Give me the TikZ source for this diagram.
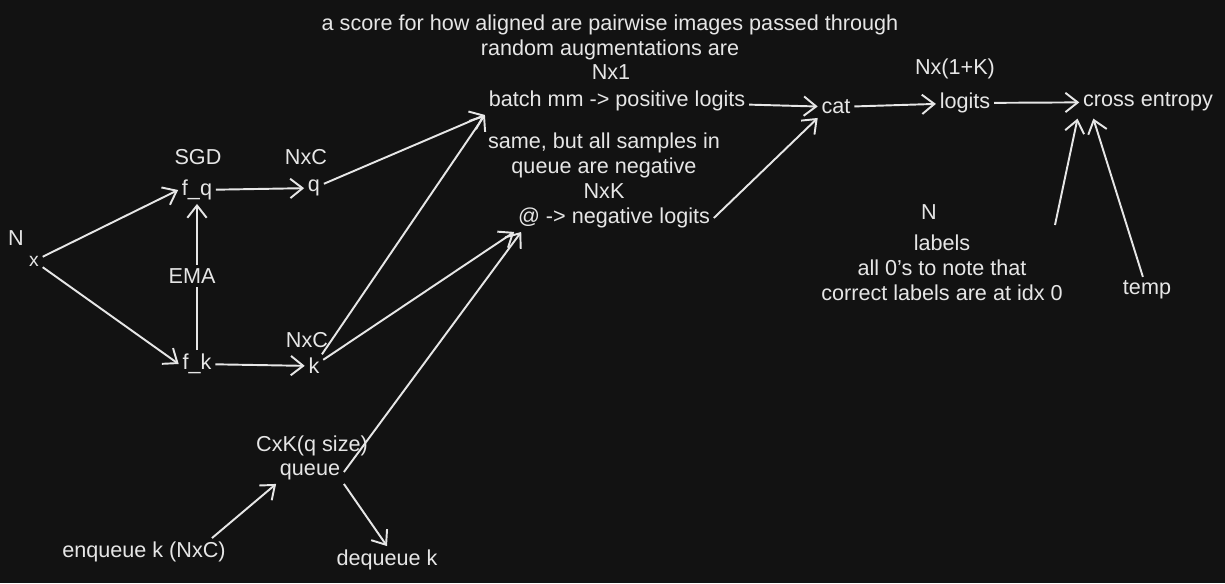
\documentclass[tikz,border=0pt]{standalone}
\usepackage{fontspec}
\setmainfont{Liberation Sans}
\usetikzlibrary{arrows.meta}
\definecolor{bg}{HTML}{121212}
\definecolor{ink}{HTML}{E6E6E6}
\begin{document}
\begin{tikzpicture}[
  x=0.02cm, y=-0.02cm,
  lbl/.style={text=ink, font=\fontsize{12.3}{14.2}\selectfont, inner sep=2pt, align=center},
  arrow/.style={-{Straight Barb[length=7pt,width=11pt]}, draw=ink, line width=1.1pt}
]
\fill[bg] (0,0) rectangle (1225,583);
% encoders
\node[lbl] (n) at (16,238) {N};
\node[lbl, font=\fontsize{11}{12}\selectfont] (x) at (34,261) {x};
\node[lbl] (sgd) at (198,157) {SGD};
\node[lbl] (fq) at (197,190) {f\_q};
\node[lbl] (fk) at (197,364) {f\_k};
\node[lbl] (nq) at (306,157) {NxC};
\node[lbl] (q) at (314,188) {q};
\node[lbl] (nk) at (307,340) {NxC};
\node[lbl] (k) at (314,366) {k};
% logits
\node[lbl] (note) at (610,37) {a score for how aligned are pairwise images passed through\\random augmentations are};
\node[lbl] (n1) at (611,72) {Nx1};
\node[lbl] (pos) at (617,101) {batch mm -> positive logits};
\node[lbl] (same) at (604,155) {same, but all samples in\\queue are negative};
\node[lbl] (nK) at (604,191) {NxK};
\node[lbl] (neg) at (614,218) {@ -> negative logits};
\node[lbl] (cat) at (836,107) {cat};
\node[lbl] (n1k) at (955,69) {Nx(1+K)};
\node[lbl] (logits) at (965,103) {logits};
\node[lbl] (ce) at (1148,102) {cross entropy};
\node[lbl] (nl) at (929,212) {N};
\node[lbl] (labels) at (942,268) {labels\\all 0's to note that\\correct labels are at idx 0};
\node[lbl] (temp) at (1147,290) {temp};
\coordinate (lab) at (1055,225);
% queue
\node[lbl] (qsize) at (312,446) {CxK(q size)};
\node[lbl] (queue) at (310,472) {queue};
\node[lbl] (enq) at (144,552) {enqueue k (NxC)};
\node[lbl] (deq) at (387,560) {dequeue k};
\draw[arrow] (x) -- (fq.west);
\draw[arrow] (x) -- (fk.west);
\draw[arrow] (fk) -- (fq);
\node[lbl, fill=bg] (ema) at (192,276) {EMA};
\draw[arrow] (fq) -- (q);
\draw[arrow] (fk) -- (k);
\draw[arrow] (q) -- (pos.south west);
\draw[arrow] (k) -- (pos.south west);
\draw[arrow] (k) -- (neg.south west);
\draw[arrow] (queue.east) -- ([xshift=4pt]neg.south west);
\draw[arrow] (pos) -- (cat);
\draw[arrow] (neg.east) -- (cat.south west);
\draw[arrow] (cat) -- (logits);
\draw[arrow] (logits) -- (ce);
\draw[arrow] (lab) -- ([xshift=-1pt,yshift=-2pt]ce.south west);
\draw[arrow] (temp) -- ([xshift=8pt,yshift=-2pt]ce.south west);
\draw[arrow] ([xshift=-10pt]enq.north east) -- (queue.south west);
\draw[arrow] (queue.south east) -- (deq.north);
\end{tikzpicture}
\end{document}
